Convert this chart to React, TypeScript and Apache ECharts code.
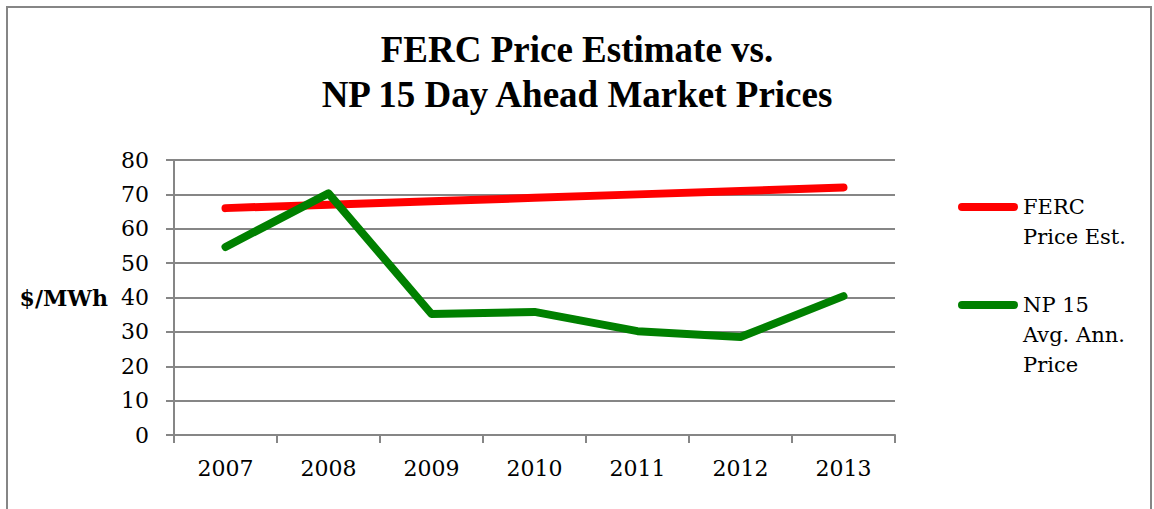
import React, { useEffect, useRef } from "react";
import * as echarts from "echarts";

const years = ["2007", "2008", "2009", "2010", "2011", "2012", "2013"];
const fercEstimate = [66, 67, 68, 69, 70, 71, 72];
const np15Price = [54.7, 70.3, 35.2, 35.8, 30.2, 28.5, 40.4];
const seriesNames = ["FERC\nPrice Est.", "NP 15\nAvg. Ann.\nPrice"];
const titleText = "FERC Price Estimate vs.\nNP 15 Day Ahead Market Prices";
const yAxisName = "$/MWh";

const FONT = "DejaVu Serif";
const GRAY = "#868686";
const CAPSULE = "path://M4,0H56A4,4,0,0,1,56,8H4A4,4,0,0,1,4,0Z";

function padFirstLineToCenter(name: string) {
  const n = name.split("\n").length;
  return "\n".repeat(n - 1) + name;
}

export default function App() {
  const ref = useRef<HTMLDivElement>(null);
  useEffect(() => {
    if (!ref.current) return;
    const chart = echarts.init(ref.current, undefined, { renderer: "svg" });
    const legendCommon = {
      orient: "vertical",
      left: 958,
      padding: 0,
      itemWidth: 60,
      itemHeight: 8,
      icon: CAPSULE,
      formatter: padFirstLineToCenter,
      textStyle: { fontFamily: FONT, fontSize: 21, color: "#000", lineHeight: 30 },
    };
    chart.setOption({
      animation: false,
      backgroundColor: "#ffffff",
      title: {
        text: titleText,
        left: "center",
        top: 27,
        padding: 0,
        textStyle: {
          fontFamily: "Liberation Serif",
          fontWeight: "bold",
          fontSize: 37,
          lineHeight: 45,
          color: "#000",
        },
      },
      graphic: [
        {
          type: "rect",
          shape: { x: 7, y: 7, width: 1144, height: 520 },
          style: { fill: "none", stroke: GRAY, lineWidth: 2 },
          silent: true,
          z: -1,
        },
      ],
      legend: [
        { ...legendCommon, top: 162, data: [seriesNames[0]] },
        { ...legendCommon, top: 230, data: [seriesNames[1]] },
      ],
      grid: { left: 174, right: 259, top: 160, bottom: 74 },
      xAxis: {
        type: "category",
        data: years,
        boundaryGap: true,
        axisLine: { lineStyle: { color: GRAY, width: 2 } },
        axisTick: { show: true, interval: 0, length: 8, lineStyle: { color: GRAY, width: 2 } },
        axisLabel: { fontFamily: FONT, fontSize: 22, color: "#000", margin: 22 },
      },
      yAxis: {
        type: "value",
        min: 0,
        max: 80,
        interval: 10,
        name: yAxisName,
        nameLocation: "middle",
        nameRotate: 0,
        nameGap: 66,
        nameTextStyle: { fontFamily: FONT, fontWeight: "bold", fontSize: 22, color: "#000", align: "right" },
        axisLine: { show: true, lineStyle: { color: GRAY, width: 2 } },
        axisTick: { show: true, length: 8, lineStyle: { color: GRAY, width: 2 } },
        axisLabel: { fontFamily: FONT, fontSize: 22, color: "#000", margin: 25 },
        splitLine: { lineStyle: { color: GRAY, width: 2 } },
      },
      series: [
        {
          name: seriesNames[0],
          type: "line",
          data: fercEstimate,
          symbol: "none",
          lineStyle: { color: "#ff0000", width: 8, cap: "round", join: "round" },
          itemStyle: { color: "#ff0000" },
        },
        {
          name: seriesNames[1],
          type: "line",
          data: np15Price,
          symbol: "none",
          lineStyle: { color: "#008000", width: 8, cap: "round", join: "round" },
          itemStyle: { color: "#008000" },
        },
      ],
    });
    return () => chart.dispose();
  }, []);
  return (
    <div
      ref={ref}
      style={{ position: "fixed", left: 0, top: 0, width: 1154, height: 509 }}
    />
  );
}
